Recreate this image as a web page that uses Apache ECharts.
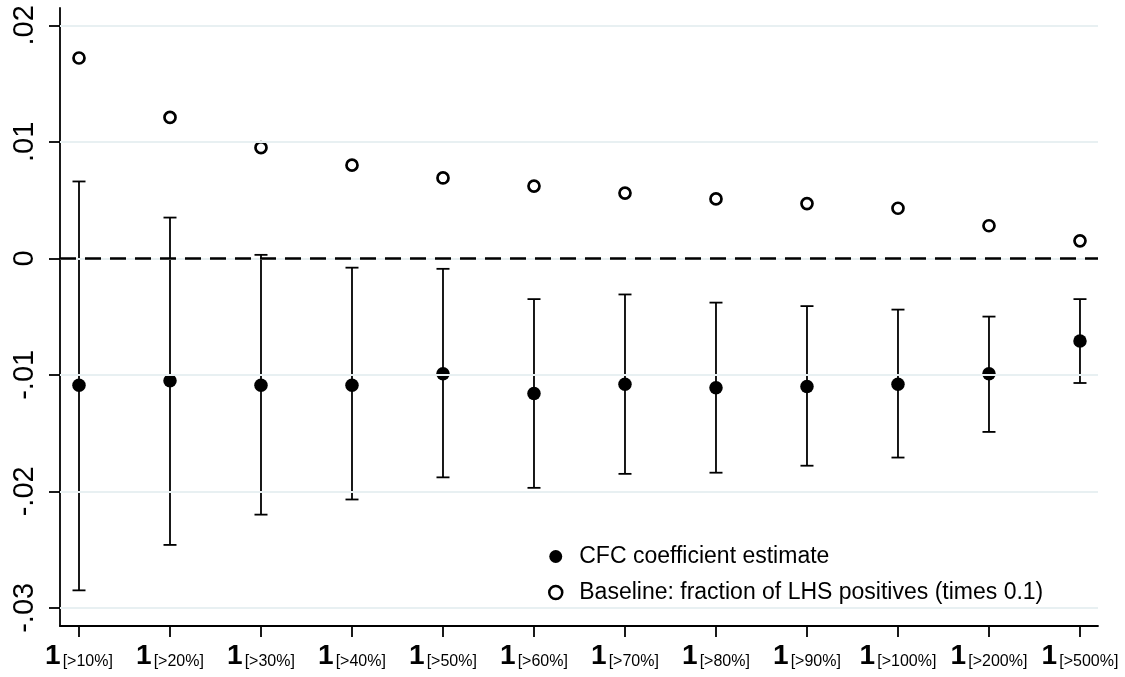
<!DOCTYPE html>
<html>
<head>
<meta charset="utf-8">
<script src="https://cdn.jsdelivr.net/npm/echarts@6/dist/echarts.min.js"></script>
<style>
html,body{margin:0;padding:0;background:#fff;}
#chart{width:1125px;height:677px;}
</style>
</head>
<body>
<div id="chart"></div>
<script>
// ---- data ----
const categories = ['[>10%]','[>20%]','[>30%]','[>40%]','[>50%]','[>60%]','[>70%]','[>80%]','[>90%]','[>100%]','[>200%]','[>500%]'];
const estimate = [-0.0109, -0.0105, -0.0109, -0.0109, -0.0099, -0.0116, -0.0108, -0.0111, -0.0110, -0.0108, -0.0099, -0.0071];
const ciLow    = [-0.0285, -0.0246, -0.0220, -0.0207, -0.0188, -0.0197, -0.0185, -0.0184, -0.0178, -0.0171, -0.0149, -0.0107];
const ciHigh   = [ 0.0066,  0.0035,  0.0003, -0.0008, -0.0009, -0.0035, -0.0031, -0.0038, -0.0041, -0.0044, -0.0050, -0.0035];
const baseline = [ 0.0172,  0.0121,  0.0095,  0.0080,  0.0069,  0.0062,  0.0056,  0.0051,  0.0047,  0.0043,  0.0028,  0.0015];
const yTicks = [-0.03, -0.02, -0.01, 0, 0.01, 0.02];
const seriesNames = ['CFC coefficient estimate', 'Baseline: fraction of LHS positives (times 0.1)'];

const xIdx = categories.map((c, i) => i);
const FONT = '"Liberation Sans", Arial, Helvetica, sans-serif';

const chart = echarts.init(document.getElementById('chart'), null, {renderer: 'canvas'});

function fmtY(v) {
  if (v === 0) return '0';
  return (v < 0 ? '-' : '') + String(Math.abs(v)).replace(/^0/, '');
}

const option = {
  backgroundColor: '#fff',
  animation: false,
  grid: {left: 60, right: 27, top: 8, bottom: 51, containLabel: false},
  xAxis: {
    type: 'value',
    min: -0.2088,
    max: 11.198,
    axisLine: {show: true, onZero: false, lineStyle: {color: '#000', width: 1.8}},
    axisTick: {show: true, customValues: xIdx, length: 11, lineStyle: {color: '#000', width: 1.8}},
    splitLine: {show: false},
    axisLabel: {
      customValues: xIdx,
      margin: 14,
      formatter: function (v) { return '{a|1}{b|' + categories[Math.round(v)] + '}'; },
      rich: {
        a: {fontFamily: FONT, fontSize: 28, fontWeight: 'bold', color: '#000', lineHeight: 30, verticalAlign: 'bottom'},
        b: {fontFamily: FONT, fontSize: 16, color: '#000', lineHeight: 16, verticalAlign: 'bottom', padding: [0, 0, 0, 2]}
      }
    }
  },
  yAxis: {
    type: 'value',
    min: -0.03156,
    max: 0.02149,
    axisLine: {show: true, onZero: false, lineStyle: {color: '#000', width: 1.8}},
    axisTick: {show: true, customValues: yTicks, length: 11, lineStyle: {color: '#000', width: 1.8}},
    splitLine: {show: false},
    axisLabel: {
      customValues: yTicks,
      rotate: 90,
      margin: 21,
      fontFamily: FONT,
      fontSize: 29,
      color: '#000',
      formatter: fmtY
    }
  },
  legend: {
    data: [
      {name: seriesNames[0], itemStyle: {color: '#000', borderWidth: 0}},
      {name: seriesNames[1], itemStyle: {color: '#fff', borderColor: '#000', borderWidth: 2.5}}
    ],
    orient: 'vertical',
    left: 543,
    top: 540,
    padding: 5,
    itemWidth: 13,
    itemHeight: 13,
    itemGap: 13,
    selectedMode: false,
    textStyle: {fontFamily: FONT, fontSize: 23, color: '#000', padding: [0, 0, 0, 12]}
  },
  series: [
    {
      name: 'grid',
      type: 'line',
      data: [],
      silent: true,
      z: 1,
      markLine: {
        silent: true,
        symbol: ['none', 'none'],
        label: {show: false},
        lineStyle: {color: '#e8f0f2', width: 2, type: 'solid', opacity: 1},
        data: yTicks.map(v => ({yAxis: v}))
      }
    },
    {
      name: 'zero',
      type: 'line',
      data: [],
      silent: true,
      z: 2,
      markLine: {
        silent: true,
        symbol: ['none', 'none'],
        label: {show: false},
        lineStyle: {color: '#000', width: 2.5, type: [16, 9], opacity: 1},
        data: [{yAxis: 0}]
      }
    },
    {
      name: 'ci',
      type: 'custom',
      z: 3,
      silent: true,
      data: xIdx.map(i => [i, ciLow[i], ciHigh[i]]),
      encode: {x: 0, y: [1, 2]},
      renderItem: function (params, api) {
        const x = api.value(0);
        const pLo = api.coord([x, api.value(1)]);
        const pHi = api.coord([x, api.value(2)]);
        const hw = 6.5;
        const st = {stroke: '#000', lineWidth: 1.8};
        return {
          type: 'group',
          children: [
            {type: 'line', shape: {x1: pLo[0], y1: pLo[1], x2: pHi[0], y2: pHi[1]}, style: st},
            {type: 'line', shape: {x1: pLo[0] - hw, y1: pLo[1], x2: pLo[0] + hw, y2: pLo[1]}, style: st},
            {type: 'line', shape: {x1: pHi[0] - hw, y1: pHi[1], x2: pHi[0] + hw, y2: pHi[1]}, style: st}
          ]
        };
      }
    },
    {
      name: seriesNames[0],
      type: 'scatter',
      z: 4,
      symbol: 'circle',
      symbolSize: 13.5,
      itemStyle: {color: '#000', opacity: 1},
      data: xIdx.map(i => [i, estimate[i]])
    },
    {
      name: seriesNames[1],
      type: 'scatter',
      z: 4,
      symbol: 'circle',
      symbolSize: 11,
      itemStyle: {color: '#fff', borderColor: '#000', borderWidth: 2.7, opacity: 1},
      data: xIdx.map(i => [i, baseline[i]])
    }
  ]
};

chart.setOption(option);
</script>
</body>
</html>
